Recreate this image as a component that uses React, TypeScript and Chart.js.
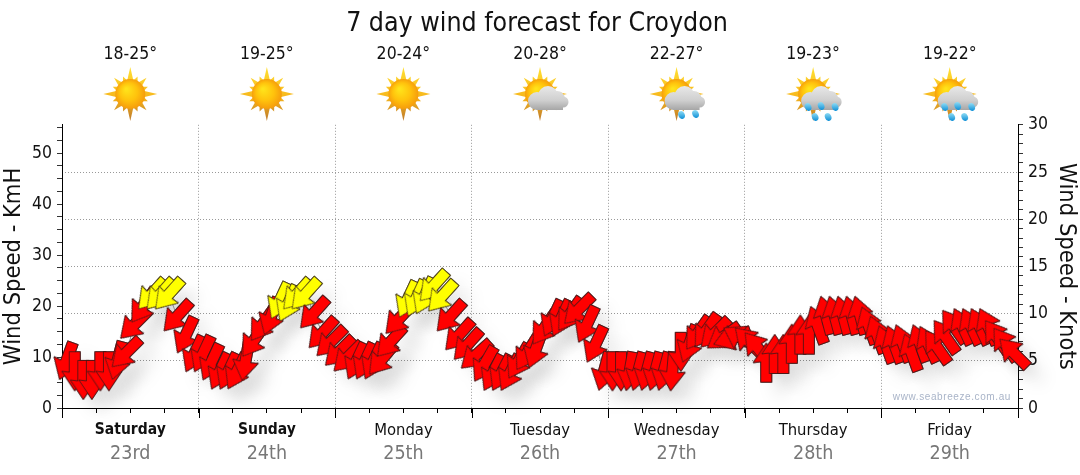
import React, { useEffect, useRef } from "react";
import { Chart, registerables } from "chart.js";

Chart.register(...registerables);

const titleText = "7 day wind forecast for Croydon";
const days = ["Saturday", "Sunday", "Monday", "Tuesday", "Wednesday", "Thursday", "Friday"];
const dates = ["23rd", "24th", "25th", "26th", "27th", "28th", "29th"];
const temps = ["18-25°", "19-25°", "20-24°", "20-28°", "22-27°", "19-23°", "19-22°"];
const icons = ["sun", "sun", "sun", "cloud", "showers", "rain", "rain"];
const boldDays = ["Saturday", "Sunday"];

const hours = [
  0.75, 2.25, 3.75, 5.25, 6.75, 8.25, 9.75, 11.25, 12.75, 14.25, 15.75, 17.25, 18.75, 20.25, 21.75, 23.25,
  24.75, 26.25, 27.75, 29.25, 30.75, 32.25, 33.75, 35.25, 36.75, 38.25, 39.75, 41.25, 42.75, 44.25, 45.75, 47.25,
  48.75, 50.25, 51.75, 53.25, 54.75, 56.25, 57.75, 59.25, 60.75, 62.25, 63.75, 65.25, 66.75, 68.25, 69.75, 71.25,
  72.75, 74.25, 75.75, 77.25, 78.75, 80.25, 81.75, 83.25, 84.75, 86.25, 87.75, 89.25, 90.75, 92.25, 93.75, 95.25,
  96.75, 98.25, 99.75, 101.25, 102.75, 104.25, 105.75, 107.25, 108.75, 110.25, 111.75, 113.25, 114.75, 116.25, 117.75, 119.25,
  120.75, 122.25, 123.75, 125.25, 126.75, 128.25, 129.75, 131.25, 132.75, 134.25, 135.75, 137.25, 138.75, 140.25, 141.75, 143.25,
  144.75, 146.25, 147.75, 149.25, 150.75, 152.25, 153.75, 155.25, 156.75, 158.25, 159.75, 161.25, 162.75, 164.25, 165.75, 167.25,
];

const speedKmh = [
  9.2, 7.2, 5.5, 5.5, 7.2, 7.2, 9.3, 10.8, 16.4, 20, 22.3, 22.3, 22.3, 18, 14.3, 10.6,
  10.6, 9, 7.2, 7.2, 7.2, 9.2, 13.3, 16.4, 18, 21, 20.5, 22.3, 22.3, 18.6, 14.7, 13,
  11.1, 10, 9.2, 9.2, 9.2, 9.6, 13, 17.5, 21.3, 21.5, 22, 23.9, 21.9, 18, 14.3, 12.4,
  10.4, 8.6, 6.9, 6.9, 6.9, 9.2, 10.8, 11.5, 15.7, 17.6, 17.6, 18.4, 19.3, 16.4, 12.5, 7.2,
  7.2, 7.2, 7.2, 7.2, 7.2, 7.2, 7.2, 7.2, 11, 12.6, 14.7, 15.2, 14.7, 14, 13.8, 13.8,
  13, 11.8, 8.9, 10.6, 10.6, 12.6, 14.4, 14.4, 16.3, 18.2, 18.2, 18.2, 18.2, 18.2, 16.2, 14.4,
  12.5, 12.5, 12.7, 10.9, 12.7, 12.5, 12, 14, 16, 16, 16, 16, 16, 14, 12.5, 10.8,
];

const headingDeg = [
  200, 180, 180, 180, 180, 180, 195, 225, 225, 215, 222, 222, 222, 222, 205, 205,
  205, 205, 205, 205, 207, 190, 215, 215, 200, 205, 205, 222, 222, 222, 222, 225,
  225, 225, 205, 205, 205, 220, 222, 222, 205, 205, 205, 222, 222, 222, 222, 222,
  228, 210, 207, 207, 207, 210, 212, 200, 215, 205, 205, 215, 225, 205, 205, 195,
  180, 180, 190, 195, 195, 195, 195, 185, 180, 200, 215, 215, 225, 235, 250, 300,
  315, 320, 0, 0, 0, 0, 0, 0, 340, 345, 345, 345, 345, 345, 340, 340,
  340, 340, 340, 340, 340, 335, 325, 325, 325, 335, 335, 335, 335, 325, 325, 315,
];

const yellowFrom = 20.2;
const kmhMax = 55.56;
const knotsMax = 30;
const FONT = "'DejaVu Sans Condensed', 'DejaVu Sans', sans-serif";

function makeArrow(fill: string): HTMLCanvasElement {
  const c = document.createElement("canvas");
  c.width = 48;
  c.height = 48;
  const g = c.getContext("2d")!;
  g.translate(24, 24);
  g.beginPath();
  g.moveTo(0, -19.5);
  g.lineTo(13, 0);
  g.lineTo(5.5, -1);
  g.lineTo(5.5, 19.5);
  g.lineTo(-5.5, 19.5);
  g.lineTo(-5.5, -1);
  g.lineTo(-13, 0);
  g.closePath();
  g.fillStyle = fill;
  g.fill();
  g.strokeStyle = "rgba(40,25,25,0.9)";
  g.lineWidth = 0.8;
  g.stroke();
  return c;
}

function drawSun(ctx: CanvasRenderingContext2D, x: number, y: number) {
  const n = 16;
  for (let i = 0; i < n; i++) {
    const a = (i / n) * Math.PI * 2;
    const len = i % 4 === 0 ? 27 : i % 2 === 0 ? 23 : 19;
    const w = i % 4 === 0 ? 3.4 : 3;
    const tipX = x + Math.sin(a) * len;
    const tipY = y - Math.cos(a) * len;
    const g = ctx.createLinearGradient(x, y - 27, x, y + 27);
    g.addColorStop(0, "#ffe033");
    g.addColorStop(0.55, "#f7b81d");
    g.addColorStop(1, "#bd7a2c");
    ctx.fillStyle = g;
    ctx.beginPath();
    ctx.moveTo(tipX, tipY);
    ctx.lineTo(x + Math.sin(a) * 12 + Math.cos(a) * w, y - Math.cos(a) * 12 + Math.sin(a) * w);
    ctx.lineTo(x + Math.sin(a) * 12 - Math.cos(a) * w, y - Math.cos(a) * 12 - Math.sin(a) * w);
    ctx.closePath();
    ctx.fill();
  }
  const disc = ctx.createRadialGradient(x - 4, y - 5, 1, x, y, 15.5);
  disc.addColorStop(0, "#ffe21a");
  disc.addColorStop(0.55, "#ffc20c");
  disc.addColorStop(1, "#f59a0c");
  ctx.fillStyle = disc;
  ctx.beginPath();
  ctx.arc(x, y, 15, 0, Math.PI * 2);
  ctx.fill();
}

function drawCloud(ctx: CanvasRenderingContext2D, x: number, y: number) {
  const g = ctx.createLinearGradient(0, y - 8, 0, y + 16);
  g.addColorStop(0, "#e8e8e8");
  g.addColorStop(0.6, "#cfcfcf");
  g.addColorStop(1, "#a6a6a6");
  ctx.fillStyle = g;
  ctx.beginPath();
  ctx.arc(x - 3, y + 7, 9, 0, Math.PI * 2);
  ctx.arc(x + 8, y + 2, 10, 0, Math.PI * 2);
  ctx.arc(x + 17, y + 5, 8, 0, Math.PI * 2);
  ctx.arc(x + 23, y + 8, 5.5, 0, Math.PI * 2);
  ctx.fill();
  ctx.fillRect(x - 3, y + 5, 26, 11);
}

function drawDrop(ctx: CanvasRenderingContext2D, x: number, y: number) {
  const g = ctx.createLinearGradient(0, y - 4, 0, y + 4);
  g.addColorStop(0, "#8fdcf5");
  g.addColorStop(1, "#0f8fd6");
  ctx.fillStyle = g;
  ctx.beginPath();
  ctx.ellipse(x, y, 3.2, 4, -0.4, 0, Math.PI * 2);
  ctx.fill();
}

function drawIcon(ctx: CanvasRenderingContext2D, kind: string, x: number, y: number) {
  drawSun(ctx, x, y);
  if (kind === "sun") return;
  drawCloud(ctx, x, y);
  if (kind === "showers") {
    drawDrop(ctx, x + 5, y + 21);
    drawDrop(ctx, x + 19, y + 20);
  }
  if (kind === "rain") {
    [[-5, 13], [8, 12], [22, 13], [2, 23], [15, 23]].forEach(([a, b]) => drawDrop(ctx, x + a, y + b));
  }
}

const decor = {
  id: "decor",
  afterDraw(chart: any) {
    const { ctx, scales } = chart;
    const sx = scales.x;
    ctx.save();
    ctx.strokeStyle = "#000";
    ctx.lineWidth = 1;
    const bottom = chart.chartArea.bottom;
    for (let d = 0; d <= 7; d++) {
      const px = Math.round(sx.getPixelForValue(d * 24)) + 0.5;
      ctx.beginPath();
      ctx.moveTo(px, bottom);
      ctx.lineTo(px, bottom + 10);
      ctx.stroke();
    }
    icons.forEach((k, i) => drawIcon(ctx, k, sx.getPixelForValue(i * 24 + 12), 94));
    ctx.font = "10px 'Liberation Sans', Arial, sans-serif";
    (ctx as any).letterSpacing = "0.6px";
    ctx.fillStyle = "#a9b4c8";
    ctx.textAlign = "right";
    ctx.textBaseline = "middle";
    ctx.fillText("www.seabreeze.com.au", chart.chartArea.right - 7, 397);
    ctx.restore();
  },
};

const shadow = {
  id: "shadow",
  beforeDatasetDraw(chart: any, args: any) {
    if (args.index !== 1) return;
    const c = chart.ctx;
    c.save();
    c.shadowColor = "rgba(0,0,0,0.08)";
    c.shadowBlur = 16;
    c.shadowOffsetX = 14;
    c.shadowOffsetY = 14;
  },
  afterDatasetDraw(chart: any, args: any) {
    if (args.index !== 1) return;
    chart.ctx.restore();
  },
};

export default function App() {
  const ref = useRef<HTMLCanvasElement>(null);
  useEffect(() => {
    document.body.style.margin = "0";
    const red = makeArrow("#ff0000");
    const yellow = makeArrow("#ffff00");
    const styles = speedKmh.map((v) => (v >= yellowFrom ? yellow : red));
    const data = hours.map((h, i) => ({ x: h, y: speedKmh[i] }));
    const dayAt = (v: number) => (Math.abs(v % 24) === 12 ? Math.floor(v / 24) : -1);
    const chart = new Chart(ref.current!, {
      type: "scatter",
      data: {
        datasets: [
          {
            data,
            xAxisID: "x",
            yAxisID: "y",
            showLine: true,
            borderColor: "#8a8a8a",
            borderWidth: 1,
            pointStyle: styles as any,
            pointRotation: headingDeg,
            pointRadius: 12,
            clip: false,
          },
          {
            data,
            xAxisID: "x",
            yAxisID: "y",
            showLine: false,
            pointStyle: styles as any,
            pointRotation: headingDeg,
            pointRadius: 12,
            clip: false,
          },
        ],
      } as any,
      plugins: [shadow, decor],
      options: {
        animation: false,
        responsive: false,
        layout: { padding: { left: 0, top: 0, bottom: 0, right: 6 } },
        events: [],
        plugins: {
          legend: { display: false },
          tooltip: { enabled: false },
          title: {
            display: true,
            text: titleText,
            color: "#111",
            font: { family: FONT, size: 26.5, weight: "normal" },
            padding: { top: 8, bottom: 0 },
          },
        },
        scales: {
          x: {
            type: "linear",
            position: "bottom",
            weight: 0,
            min: 0,
            max: 168,
            afterFit: (s: any) => { s.height = 33; },
            ticks: {
              stepSize: 6,
              autoSkip: false,
              maxRotation: 0,
              padding: 8,
              color: "#111",
              font: (c: any) => {
                const d = dayAt(c.tick?.value ?? 0);
                const bold = d >= 0 && boldDays.includes(days[d]);
                return { family: FONT, size: bold ? 15.5 : 16.5, weight: bold ? "bold" : "normal" };
              },
              callback: (v: any) => { const d = dayAt(Number(v)); return d >= 0 ? days[d] : ""; },
            },
            border: { color: "#000", width: 1, dash: [1, 2] },
            grid: {
              color: (c: any) => (c.tick && c.tick.value % 24 === 0 && c.tick.value > 0 && c.tick.value < 168 ? "#999" : "rgba(0,0,0,0)"),
              tickColor: "#000",
              tickLength: 5,
            },
          },
          xDate: {
            type: "linear",
            position: "bottom",
            weight: 1,
            min: 0,
            max: 168,
            afterFit: (s: any) => { s.height = 34; },
            ticks: {
              stepSize: 6,
              autoSkip: false,
              maxRotation: 0,
              padding: 1,
              color: "#777",
              font: { family: FONT, size: 19.5 },
              callback: (v: any) => { const d = dayAt(Number(v)); return d >= 0 ? dates[d] : ""; },
            },
            border: { display: false },
            grid: { display: false, drawTicks: false },
          },
          xTemp: {
            type: "linear",
            position: "top",
            min: 0,
            max: 168,
            afterFit: (s: any) => { s.height = 85; },
            ticks: {
              stepSize: 6,
              autoSkip: false,
              maxRotation: 0,
              padding: 60,
              color: "#111",
              font: { family: FONT, size: 17.5 },
              callback: (v: any) => { const d = dayAt(Number(v)); return d >= 0 ? temps[d] : ""; },
            },
            border: { display: false },
            grid: { display: false, drawTicks: false },
          },
          y: {
            type: "linear",
            position: "left",
            min: 0,
            max: kmhMax,
            afterFit: (s: any) => { s.width = 62; },
            title: {
              display: true,
              text: "Wind Speed - KmH",
              color: "#111",
              font: { family: FONT, size: 23.5, weight: "normal" },
              padding: { top: 0, bottom: 0 },
            },
            ticks: {
              stepSize: 2.5,
              autoSkip: false,
              includeBounds: false,
              padding: 5,
              color: "#111",
              font: { family: FONT, size: 17.5 },
              callback: (v: any) => (Number(v) % 10 === 0 ? String(v) : ""),
            },
            border: { color: "#000", width: 1 },
            grid: { drawOnChartArea: false, tickColor: "#333", tickLength: 5 },
          },
          yKnots: {
            type: "linear",
            position: "right",
            min: 0,
            max: knotsMax,
            afterFit: (s: any) => { s.width = 56; },
            title: {
              display: true,
              text: "Wind Speed - Knots",
              color: "#111",
              font: { family: FONT, size: 23.5, weight: "normal" },
              padding: { top: -6, bottom: 0 },
            },
            ticks: {
              stepSize: 1,
              autoSkip: false,
              padding: 5,
              color: "#111",
              font: { family: FONT, size: 17.5 },
              callback: (v: any) => (Number(v) % 5 === 0 ? String(v) : ""),
            },
            border: { color: "#000", width: 1, dash: [1, 2] },
            grid: {
              color: (c: any) => (c.tick && c.tick.value % 5 === 0 && c.tick.value > 0 && c.tick.value < 30 ? "#999" : "rgba(0,0,0,0)"),
              tickColor: "#333",
              tickLength: 5,
            },
          },
        },
      } as any,
    });
    return () => chart.destroy();
  }, []);
  return <canvas ref={ref} width={1080} height={475} style={{ display: "block", width: 1080, height: 475 }} />;
}
